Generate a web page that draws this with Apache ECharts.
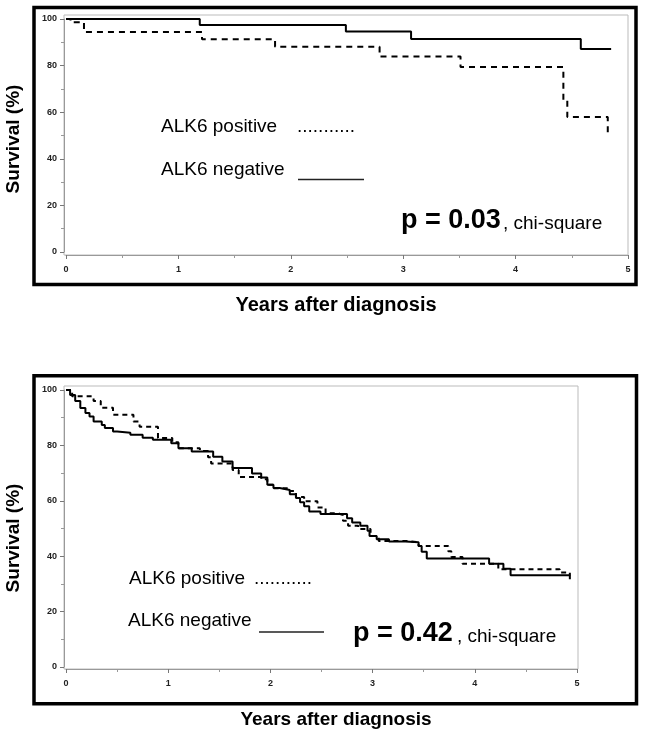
<!DOCTYPE html>
<html>
<head>
<meta charset="utf-8">
<script src="https://cdn.jsdelivr.net/npm/echarts@6/dist/echarts.min.js"></script>
<style>
html,body{margin:0;padding:0;background:#fff;}
#chart{width:645px;height:736px;}
</style>
</head>
<body>
<div id="chart"></div>
<script>
// ---------- data ----------
const yearTicks = [0, 1, 2, 3, 4, 5];
const survivalTicks = [0, 20, 40, 60, 80, 100];

// Top panel: Kaplan-Meier steps [years, survival %]
const topNegative = [[0,100],[1.19,97.4],[2.49,94.6],[3.07,91.4],[4.58,87.1],[4.85,87.1]];
const topPositive = [[0,100],[0.04,98.6],[0.16,94.4],[1.21,91.3],[1.86,88.1],[2.79,83.9],[3.51,79.4],[4.425,65.3],[4.46,57.9],[4.82,50.3]];

// Bottom panel
const bottomNegative = [[0,100],[0.04,98.2],[0.09,96],[0.14,93.5],[0.19,91.7],[0.23,90.4],[0.27,88.6],[0.35,87.4],[0.38,86.3],[0.46,85],[0.5,84.6],[0.63,83.8],[0.75,82.8],[0.85,82],[1.03,80.8],[1.1,79],[1.23,77.8],[1.44,75.9],[1.53,74.2],[1.63,71.8],[1.82,69.9],[1.91,68.4],[1.97,65.8],[2.03,64.6],[2.09,63.9],[2.19,62.4],[2.25,61],[2.29,59.5],[2.33,58],[2.38,56.1],[2.49,55.2],[2.75,53.7],[2.8,52.2],[2.88,51],[2.95,49.2],[2.97,47.3],[3.04,46.1],[3.16,45.3],[3.32,45],[3.45,43.7],[3.48,41.6],[3.53,39.2],[4.14,37.3],[4.28,35.5],[4.35,33.1],[4.93,31.7]];
const bottomPositive = [[0,100],[0.06,97.7],[0.27,96],[0.34,93.6],[0.46,91.1],[0.66,88.6],[0.72,86.7],[0.9,82.7],[1.04,81.1],[1.1,79],[1.31,78],[1.39,75.7],[1.42,73.5],[1.63,71.1],[1.69,68.6],[1.91,67.8],[1.97,65.8],[2.03,64.5],[2.17,63.5],[2.25,61.4],[2.33,59.8],[2.46,57.6],[2.54,55.5],[2.66,54.9],[2.71,52.8],[2.76,51],[2.86,49.8],[2.98,47.3],[3.06,45.5],[3.34,45],[3.45,43.7],[3.74,41.8],[3.77,39.7],[3.88,37.3],[4.23,35.3],[4.83,34.1],[4.93,33]];

const legendPositive = 'ALK6 positive';
const legendNegative = 'ALK6 negative';
const pTop = 'p = 0.03';
const pBottom = 'p = 0.42';
const testName = ', chi-square';
const yTitle = 'Survival (%)';
const xTitle = 'Years after diagnosis';

// ---------- chart ----------
const FONT = 'Liberation Sans, Arial, sans-serif';
const chart = echarts.init(document.getElementById('chart'), null, {renderer:'canvas'});

function xAxisCfg(gi, off){
  return {
    gridIndex: gi, type:'value', min:0, max:5, interval:1, offset: off,
    axisLine:{show:true, onZero:false, lineStyle:{color:'#999', width:1}},
    axisTick:{show:true, length:4, lineStyle:{color:'#777'}},
    minorTick:{show:true, splitNumber:2, length:3, lineStyle:{color:'#999'}},
    axisLabel:{margin:10, fontSize:9, fontWeight:'bold', color:'#222', fontFamily:FONT,
      formatter: v => yearTicks.includes(v) ? String(v) : ''},
    splitLine:{show:false}
  };
}
function yAxisCfg(gi){
  return {
    gridIndex: gi, type:'value', min:0, max:100, interval:20, offset:2,
    axisLine:{show:true, onZero:false, lineStyle:{color:'#999', width:1}},
    axisTick:{show:true, length:4, lineStyle:{color:'#777'}},
    minorTick:{show:true, splitNumber:2, length:3, lineStyle:{color:'#999'}},
    axisLabel:{margin:7, fontSize:9, fontWeight:'bold', color:'#222', fontFamily:FONT,
      formatter: v => survivalTicks.includes(v) ? String(v) : ''},
    splitLine:{show:false}
  };
}
function km(name, data, xi, dashed, dash){
  return {
    name, type:'line', xAxisIndex:xi, yAxisIndex:xi, data, step:'end',
    symbol:'none', silent:true,
    lineStyle:{color:'#000', width:2, type: dashed ? dash : 'solid'}
  };
}
function txt(text, x, y, size, weight, extra){
  return Object.assign({
    type:'text', silent:true, z:10,
    style:{text, x, y, fill:'#000', font: weight+' '+size+'px '+FONT,
      textAlign:'left', textVerticalAlign:'middle', align:'left', verticalAlign:'middle'}
  }, extra||{});
}
function rotTitle(text, cx, cy){
  return {
    type:'text', silent:true, x:cx, y:cy, rotation:Math.PI/2,
    style:{text, x:0, y:0, fill:'#000', font:'bold 19px '+FONT,
      textAlign:'center', textVerticalAlign:'middle', align:'center', verticalAlign:'middle'}
  };
}
function line(x1,y1,x2,y2,color,w){
  return {type:'line', silent:true, shape:{x1,y1,x2,y2}, style:{stroke:color, lineWidth:w}};
}
function rect(x,y,w,h,color,lw){
  return {type:'rect', silent:true, shape:{x,y,width:w,height:h}, style:{fill:'none', stroke:color, lineWidth:lw}};
}

chart.setOption({
  animation:false,
  backgroundColor:'#fff',
  grid:[
    {left:66, top:19, width:562, height:233},
    {left:66, top:390, width:511, height:277}
  ],
  xAxis:[xAxisCfg(0,3), xAxisCfg(1,2)],
  yAxis:[yAxisCfg(0), yAxisCfg(1)],
  series:[
    km(legendNegative, topNegative, 0, false),
    km(legendPositive, topPositive, 0, true, [6,5]),
    km(legendNegative, bottomNegative, 1, false),
    km(legendPositive, bottomPositive, 1, true, [5,4])
  ],
  graphic:[
    // plot boxes
    rect(64,15,564,240,'#bbb',1),
    rect(64,386,514,283,'#bbb',1),
    // outer frames
    rect(34,7.5,602,277,'#000',3.5),
    rect(34,375.7,602.5,328,'#000',3.5),
    // axis titles
    rotTitle(yTitle, 14, 139),
    rotTitle(yTitle, 14, 538),
    {type:'text', silent:true, style:{text:xTitle, x:336, y:305, fill:'#000', font:'bold 20px '+FONT, textAlign:'center', textVerticalAlign:'middle', align:'center', verticalAlign:'middle'}},
    {type:'text', silent:true, style:{text:xTitle, x:336, y:720, fill:'#000', font:'bold 19px '+FONT, textAlign:'center', textVerticalAlign:'middle', align:'center', verticalAlign:'middle'}},
    // top annotations
    txt(legendPositive, 161, 127, 19, 'normal'),
    txt('...........', 297, 127, 19, 'normal'),
    txt(legendNegative, 161, 170, 19, 'normal'),
    line(298,179.5,364,179.5,'#222',1.5),
    txt(pTop, 401, 221, 27, 'bold'),
    txt(testName, 503, 223.5, 19, 'normal'),
    // bottom annotations
    txt(legendPositive, 129, 579, 19, 'normal'),
    txt('...........', 254, 579, 19, 'normal'),
    txt(legendNegative, 128, 621, 19, 'normal'),
    line(259,632,324,632,'#222',1.5),
    txt(pBottom, 353, 634, 27, 'bold'),
    txt(testName, 457, 636.5, 19, 'normal')
  ]
});
</script>
</body>
</html>
